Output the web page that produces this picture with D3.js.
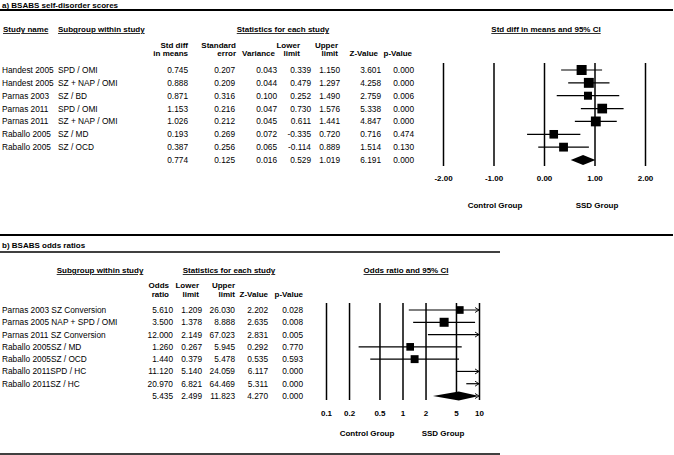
<!DOCTYPE html>
<html>
<head>
<meta charset="utf-8">
<script src="https://cdn.jsdelivr.net/npm/d3@7"></script>
<style>
  body { margin: 0; background: #fff; }
  text { font-family: "Liberation Sans", Arial, sans-serif; font-size: 8.3px; fill: #000; }
  .bold { font-weight: bold; font-size: 8px; }
  .ul { text-decoration: underline; }
</style>
</head>
<body>
<div id="chart"></div>
<script>
// ---- data, panel a (std diff in means) ----
var studyA = ["Handest 2005", "Handest 2005", "Parnas 2003", "Parnas 2011", "Parnas 2011", "Raballo 2005", "Raballo 2005", ""];
var subgroupA = ["SPD / OMI", "SZ + NAP / OMI", "SZ / BD", "SPD / OMI", "SZ + NAP / OMI", "SZ / MD", "SZ / OCD", ""];
var smdA = [0.745, 0.888, 0.871, 1.153, 1.026, 0.193, 0.387, 0.774];
var seA = [0.207, 0.209, 0.316, 0.216, 0.212, 0.269, 0.256, 0.125];
var varA = [0.043, 0.044, 0.100, 0.047, 0.045, 0.072, 0.065, 0.016];
var lowerA = [0.339, 0.479, 0.252, 0.730, 0.611, -0.335, -0.114, 0.529];
var upperA = [1.150, 1.297, 1.490, 1.576, 1.441, 0.720, 0.889, 1.019];
var zA = [3.601, 4.258, 2.759, 5.338, 4.847, 0.716, 1.514, 6.191];
var pA = [0.000, 0.000, 0.006, 0.000, 0.000, 0.474, 0.130, 0.000];
var ticksA = [-2, -1, 0, 1, 2];

// ---- data, panel b (odds ratios) ----
var labelB = ["Parnas 2003 SZ Conversion", "Parnas 2005 NAP + SPD / OMI", "Parnas 2011 SZ Conversion",
  "Raballo 2005SZ / MD", "Raballo 2005SZ / OCD", "Raballo 2011SPD / HC", "Raballo 2011SZ / HC", ""];
var orB = [5.610, 3.500, 12.000, 1.260, 1.440, 11.120, 20.970, 5.435];
var lowerB = [1.209, 1.378, 2.149, 0.267, 0.379, 5.140, 6.821, 2.499];
var upperB = [26.030, 8.888, 67.023, 5.945, 5.478, 24.059, 64.469, 11.823];
var zB = [2.202, 2.635, 2.831, 0.292, 0.535, 6.117, 5.311, 4.270];
var pB = [0.028, 0.008, 0.005, 0.770, 0.593, 0.000, 0.000, 0.000];
var ticksB = [0.1, 0.2, 0.5, 1, 2, 5, 10];

var W = 674, H = 455;
var f3 = function(v) { return v.toFixed(3); };

var svg = d3.select("#chart").append("svg")
  .attr("width", W).attr("height", H);

function hline(y, x1, x2, w) {
  svg.append("line").attr("x1", x1).attr("x2", x2).attr("y1", y).attr("y2", y)
    .attr("stroke", "#000").attr("stroke-width", w);
}
function txt(x, y, s, anchor, cls) {
  return svg.append("text").attr("x", x).attr("y", y)
    .attr("text-anchor", anchor || "start")
    .attr("class", cls || null).text(s);
}
function arrow(x, y) {
  svg.append("path").attr("d", "M" + (x - 4) + "," + (y - 2.5) + "L" + x + "," + y + "L" + (x - 4) + "," + (y + 2.5))
    .attr("fill", "none").attr("stroke", "#000").attr("stroke-width", 0.9);
}

// ================= panel a =================
txt(2, 7.5, "a) BSABS self-disorder scores", "start", "bold");
hline(10, 0, 673, 2);

txt(3, 32, "Study name", "start", "bold ul");
txt(58, 32, "Subgroup within study", "start", "bold ul");
txt(283, 32, "Statistics for each study", "middle", "bold ul");
txt(546, 32, "Std diff in means and 95% CI", "middle", "bold ul");

var headA = [
  ["Std diff", "in means", 188],
  ["Standard", "error", 236],
  ["", "Variance", 275],
  ["Lower", "limit", 300],
  ["Upper", "limit", 338],
  ["", "Z-Value", 378],
  ["", "p-Value", 412]
];
headA.forEach(function(h) {
  if (h[0]) txt(h[2], 47.5, h[0], "end", "bold");
  txt(h[2], 56, h[1], "end", "bold");
});

var yA = d3.scalePoint().domain(d3.range(studyA.length)).range([70, 160]);
var xA = d3.scaleLinear().domain([-2, 2]).range([443, 645]);
var colsA = [[smdA, 188], [seA, 235], [varA, 277], [lowerA, 311], [upperA, 340], [zA, 381], [pA, 414]];

studyA.forEach(function(s, i) {
  var by = yA(i) + 3;
  txt(2, by, s);
  txt(58, by, subgroupA[i]);
  colsA.forEach(function(c) { txt(c[1], by, f3(c[0][i]), "end"); });
});

// axis with full-height tick lines
var axA = svg.append("g").attr("transform", "translate(0,166)")
  .call(d3.axisBottom(xA).tickValues(ticksA).tickSize(-103).tickPadding(9)
    .tickFormat(function(d) { return d.toFixed(2); }));
axA.select(".domain").remove();
axA.selectAll(".tick line").attr("stroke", "#000").attr("stroke-width", 1.5);
axA.selectAll(".tick text").attr("class", "bold").style("font-family", "Liberation Sans, Arial, sans-serif")
  .style("font-size", "8px").attr("fill", "#000");

var wA = varA.slice(0, 7).map(function(v) { return 1 / v; });
var sizeA = d3.scaleLinear().domain(d3.extent(wA)).range([8, 10]);

smdA.forEach(function(v, i) {
  var cy = yA(i);
  if (i < 7) {
    svg.append("line").attr("x1", xA(lowerA[i])).attr("x2", xA(upperA[i]))
      .attr("y1", cy).attr("y2", cy).attr("stroke", "#000").attr("stroke-width", 1.2);
    var s = sizeA(1 / varA[i]);
    svg.append("rect").attr("x", xA(v) - s / 2).attr("y", cy - s / 2)
      .attr("width", s).attr("height", s).attr("fill", "#000");
  } else {
    svg.append("path")
      .attr("d", "M" + xA(lowerA[i]) + "," + cy + "L" + xA(v) + "," + (cy - 5) +
        "L" + xA(upperA[i]) + "," + cy + "L" + xA(v) + "," + (cy + 5) + "Z")
      .attr("fill", "#000");
  }
});

txt(495, 208, "Control Group", "middle", "bold");
txt(597, 208, "SSD Group", "middle", "bold");

// ================= panel b =================
hline(235, 0, 673, 2);
txt(2, 248, "b) BSABS odds ratios", "start", "bold");
hline(252, 0, 500, 1.5);

txt(100, 273, "Subgroup within study", "middle", "bold ul");
txt(229, 273, "Statistics for each study", "middle", "bold ul");
txt(406, 273, "Odds ratio and 95% CI", "middle", "bold ul");

var headB = [
  ["Odds", "ratio", 169],
  ["Lower", "limit", 199],
  ["Upper", "limit", 235],
  ["", "Z-Value", 268],
  ["", "p-Value", 303]
];
headB.forEach(function(h) {
  if (h[0]) txt(h[2], 288, h[0], "end", "bold");
  txt(h[2], 297, h[1], "end", "bold");
});

var yB = d3.scalePoint().domain(d3.range(labelB.length)).range([310, 396]);
var xB = d3.scaleLog().domain([0.1, 10]).range([326, 479]);
var colsB = [[orB, 173], [lowerB, 202], [upperB, 235], [zB, 268], [pB, 303]];

labelB.forEach(function(s, i) {
  var by = yB(i) + 3;
  txt(2, by, s);
  colsB.forEach(function(c) { txt(c[1], by, f3(c[0][i]), "end"); });
});

var axB = svg.append("g").attr("transform", "translate(0,400)")
  .call(d3.axisBottom(xB).tickValues(ticksB).tickSize(-97).tickPadding(10)
    .tickFormat(function(d) { return String(d); }));
axB.select(".domain").remove();
axB.selectAll(".tick line").attr("stroke", "#000").attr("stroke-width", 1.5);
axB.selectAll(".tick text").attr("class", "bold").style("font-family", "Liberation Sans, Arial, sans-serif")
  .style("font-size", "8px").attr("fill", "#000");

var wB = lowerB.slice(0, 7).map(function(l, i) {
  var se = (Math.log(upperB[i]) - Math.log(l)) / 3.92;
  return 1 / (se * se);
});
var sizeB = d3.scaleLinear().domain(d3.extent(wB)).range([7.5, 10]);
var lo = xB.domain()[0], hi = xB.domain()[1];

orB.forEach(function(v, i) {
  var cy = yB(i);
  var l = Math.max(lowerB[i], lo), u = Math.min(upperB[i], hi);
  if (i < 7) {
    svg.append("line").attr("x1", xB(l)).attr("x2", xB(u))
      .attr("y1", cy).attr("y2", cy).attr("stroke", "#000").attr("stroke-width", 1.2);
    if (upperB[i] > hi) arrow(xB(hi), cy);
    if (v >= lo && v <= hi) {
      var s = sizeB(wB[i]);
      svg.append("rect").attr("x", xB(v) - s / 2).attr("y", cy - s / 2)
        .attr("width", s).attr("height", s).attr("fill", "#000");
    }
  } else {
    svg.append("path")
      .attr("d", "M" + xB(l) + "," + cy + "L" + xB(v) + "," + (cy - 4.5) +
        "L" + xB(u) + "," + cy + "L" + xB(v) + "," + (cy + 4.5) + "Z")
      .attr("fill", "#000");
    if (upperB[i] > hi) arrow(xB(hi), cy);
  }
});

txt(367, 436, "Control Group", "middle", "bold");
txt(443, 436, "SSD Group", "middle", "bold");
hline(454, 0, 500, 1.5);
</script>
</body>
</html>
